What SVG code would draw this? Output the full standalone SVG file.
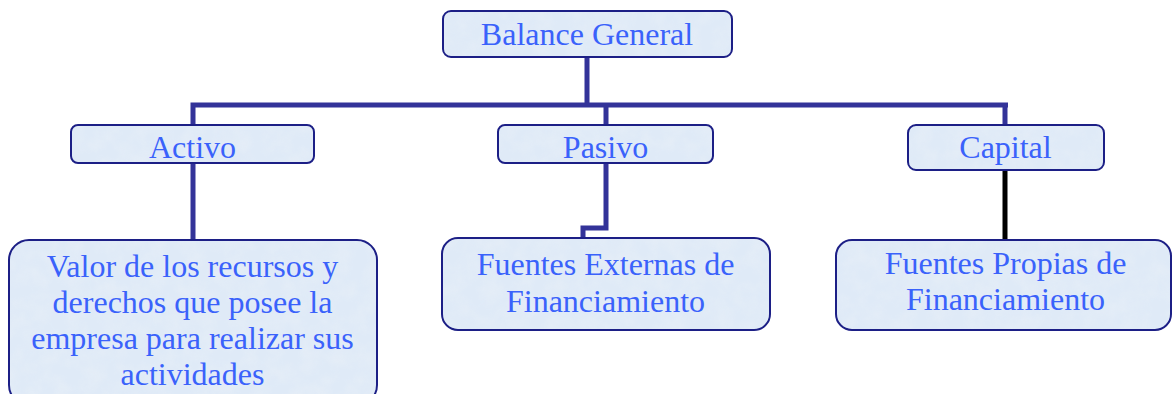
<svg xmlns="http://www.w3.org/2000/svg" width="1172" height="394" viewBox="0 0 1172 394">
<style>
.box{fill:#dfeaf7;stroke:#1c1f86;stroke-width:2}
.tex{fill:#ffffff;filter:url(#marble)}
.t{font-family:"Liberation Serif","Times New Roman",serif;font-size:32px;fill:#3a62fb;text-anchor:middle}
.c{fill:none;stroke:#333399;stroke-width:5}
.k{fill:none;stroke:#000000;stroke-width:5}
</style>
<defs>
<filter id="marble" x="0" y="0" width="100%" height="100%">
<feTurbulence type="fractalNoise" baseFrequency="0.06" numOctaves="3" seed="4" result="n"/>
<feColorMatrix in="n" type="matrix" values="0 0 0 0 0.80  0 0 0 0 0.86  0 0 0 0 0.93  0 0 0 -2 1.3" result="c"/>
<feComposite in="c" in2="SourceGraphic" operator="in"/>
</filter>
</defs>
<rect width="1172" height="394" fill="#ffffff"/>
<g id="connectors">
<path class="c" d="M587 57V105M190.5 105H1008M193 105V125M606 105V125M1005 105V125"/>
<path class="c" d="M193 163V240"/>
<path class="c" d="M606 163V228H583V238"/>
<path class="k" d="M1005 170V240"/>
</g>
<g id="balance">
<rect class="box" x="443" y="11" width="289" height="46" rx="8"/>
<rect class="tex" x="444" y="12" width="287" height="44" rx="7" opacity="0.6"/>
<text class="t" x="587" y="45">Balance General</text>
</g>
<g id="activo">
<rect class="box" x="71" y="125" width="243" height="38" rx="7"/>
<rect class="tex" x="72" y="126" width="241" height="36" rx="6" opacity="0.6"/>
<text class="t" x="192.5" y="158">Activo</text>
</g>
<g id="pasivo">
<rect class="box" x="498" y="125" width="215" height="38" rx="7"/>
<rect class="tex" x="499" y="126" width="213" height="36" rx="6" opacity="0.6"/>
<text class="t" x="605.5" y="158">Pasivo</text>
</g>
<g id="capital">
<rect class="box" x="908" y="125" width="196" height="45" rx="8"/>
<rect class="tex" x="909" y="126" width="194" height="43" rx="7" opacity="0.6"/>
<text class="t" x="1005.5" y="158">Capital</text>
</g>
<g id="valor">
<rect class="box" x="9" y="240" width="368" height="165" rx="20"/>
<rect class="tex" x="10" y="241" width="366" height="163" rx="19" opacity="0.6"/>
<text class="t" x="192.5" y="277">Valor de los recursos y</text>
<text class="t" x="192.5" y="313">derechos que posee la</text>
<text class="t" x="192.5" y="349">empresa para realizar sus</text>
<text class="t" x="192.5" y="385">actividades</text>
</g>
<g id="externas">
<rect class="box" x="442" y="238" width="328" height="92" rx="16"/>
<rect class="tex" x="443" y="239" width="326" height="90" rx="15" opacity="0.6"/>
<text class="t" x="605.5" y="275">Fuentes Externas de</text>
<text class="t" x="605.5" y="312">Financiamiento</text>
</g>
<g id="propias">
<rect class="box" x="836" y="240" width="335" height="90" rx="16"/>
<rect class="tex" x="837" y="241" width="333" height="88" rx="15" opacity="0.6"/>
<text class="t" x="1005.5" y="274">Fuentes Propias de</text>
<text class="t" x="1005.5" y="310">Financiamiento</text>
</g>
</svg>
